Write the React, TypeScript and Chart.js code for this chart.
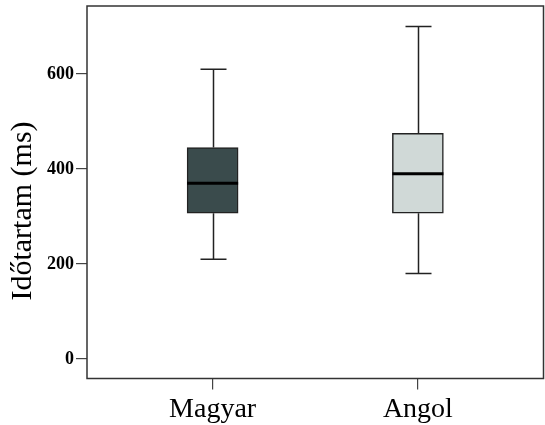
import React, { useEffect, useRef } from "react";
import { Chart, registerables } from "chart.js";

Chart.register(...registerables);

const CATEGORIES = ["Magyar", "Angol"];
const WHISKER_MIN = [210, 180];
const Q1 = [307, 307];
const MEDIAN = [370, 390];
const Q3 = [445, 475];
const WHISKER_MAX = [610, 700];
const Y_TICKS = [0, 200, 400, 600];
const BOX_COLORS = ["#3a4b4c", "#d0d9d7"];
const Y_TITLE = "Időtartam (ms)";

const FONT = "'Liberation Serif', 'Times New Roman', serif";

export default function App() {
  const ref = useRef<HTMLCanvasElement>(null);

  useEffect(() => {
    if (!ref.current) return;

    const boxPlugin = {
      id: "boxExtras",
      beforeDatasetsDraw(chart: any) {
        const { ctx, scales } = chart;
        const x = scales.x;
        const y = scales.y;
        ctx.save();
        ctx.strokeStyle = "#222";
        ctx.lineWidth = 1.5;
        CATEGORIES.forEach((_, i) => {
          const cx = Math.round(x.getPixelForValue(i)) + 0.5;
          const half = 13;
          const yMax = y.getPixelForValue(WHISKER_MAX[i]);
          const yMin = y.getPixelForValue(WHISKER_MIN[i]);
          const yQ1 = y.getPixelForValue(Q1[i]);
          const yQ3 = y.getPixelForValue(Q3[i]);
          ctx.beginPath();
          ctx.moveTo(cx, yMax);
          ctx.lineTo(cx, yQ3);
          ctx.moveTo(cx, yQ1);
          ctx.lineTo(cx, yMin);
          ctx.moveTo(cx - half, yMax);
          ctx.lineTo(cx + half, yMax);
          ctx.moveTo(cx - half, yMin);
          ctx.lineTo(cx + half, yMin);
          ctx.stroke();
        });
        ctx.restore();
      },
      afterDatasetsDraw(chart: any) {
        const { ctx, scales, chartArea } = chart;
        const x = scales.x;
        const y = scales.y;
        ctx.save();
        ctx.strokeStyle = "#000";
        ctx.lineWidth = 3;
        CATEGORIES.forEach((_, i) => {
          const cx = x.getPixelForValue(i);
          const ym = y.getPixelForValue(MEDIAN[i]);
          ctx.beginPath();
          ctx.moveTo(cx - 25.5, ym);
          ctx.lineTo(cx + 25.5, ym);
          ctx.stroke();
        });
        // frame
        ctx.strokeStyle = "#333";
        ctx.lineWidth = 1.5;
        ctx.strokeRect(
          chartArea.left,
          chartArea.top,
          chartArea.right - chartArea.left,
          chartArea.bottom - chartArea.top
        );
        // y title
        ctx.fillStyle = "#000";
        ctx.font = `30px ${FONT}`;
        ctx.textAlign = "center";
        ctx.textBaseline = "middle";
        ctx.translate(23, 211);
        ctx.rotate(-Math.PI / 2);
        ctx.fillText(Y_TITLE, 0, 0);
        ctx.restore();
      },
    };

    const chart = new Chart(ref.current, {
      type: "bar",
      data: {
        datasets: [
          {
            data: CATEGORIES.map((_, i) => ({ x: i, y: [Q1[i], Q3[i]] })) as any,
            backgroundColor: BOX_COLORS,
            borderColor: "#222",
            borderWidth: 1.5,
            borderSkipped: false,
            barThickness: 51,
          },
        ],
      },
      options: {
        animation: false,
        responsive: true,
        maintainAspectRatio: false,
        layout: { padding: { top: 6, right: 1.5, left: 0, bottom: 0 } },
        plugins: {
          legend: { display: false },
          tooltip: { enabled: false },
        },
        scales: {
          x: {
            type: "linear",
            offset: false,
            min: -0.612,
            max: 1.612,
            afterBuildTicks: (scale: any) => {
              scale.ticks = CATEGORIES.map((_, i) => ({ value: i }));
            },
            afterFit: (scale: any) => {
              scale.height = 46.5;
              scale.paddingLeft = 0;
              scale.paddingRight = 0;
            },
            grid: {
              offset: false,
              drawOnChartArea: false,
              drawTicks: true,
              tickLength: 11,
              color: "#444",
              lineWidth: 1.2,
            },
            border: { display: false },
            ticks: {
              autoSkip: false,
              maxRotation: 0,
              padding: 3,
              color: "#000",
              font: { family: FONT, size: 28 },
              callback: (v: any) => CATEGORIES[v as number] ?? "",
            },
          },
          y: {
            min: -41,
            max: 743,
            afterBuildTicks: (scale: any) => {
              scale.ticks = Y_TICKS.map((v) => ({ value: v }));
            },
            afterFit: (scale: any) => {
              scale.width = 87;
              scale.paddingTop = 0;
              scale.paddingBottom = 0;
            },
            grid: {
              drawOnChartArea: false,
              drawTicks: true,
              tickLength: 11,
              color: "#444",
              lineWidth: 1.2,
            },
            border: { display: false },
            ticks: {
              padding: 2,
              color: "#000",
              font: { family: FONT, size: 18, weight: "bold" },
            },
          },
        },
      },
      plugins: [boxPlugin],
    });

    return () => chart.destroy();
  }, []);

  return (
    <div style={{ position: "absolute", left: 0, top: 0, width: 545, height: 425, background: "#fff" }}>
      <canvas ref={ref} />
    </div>
  );
}
